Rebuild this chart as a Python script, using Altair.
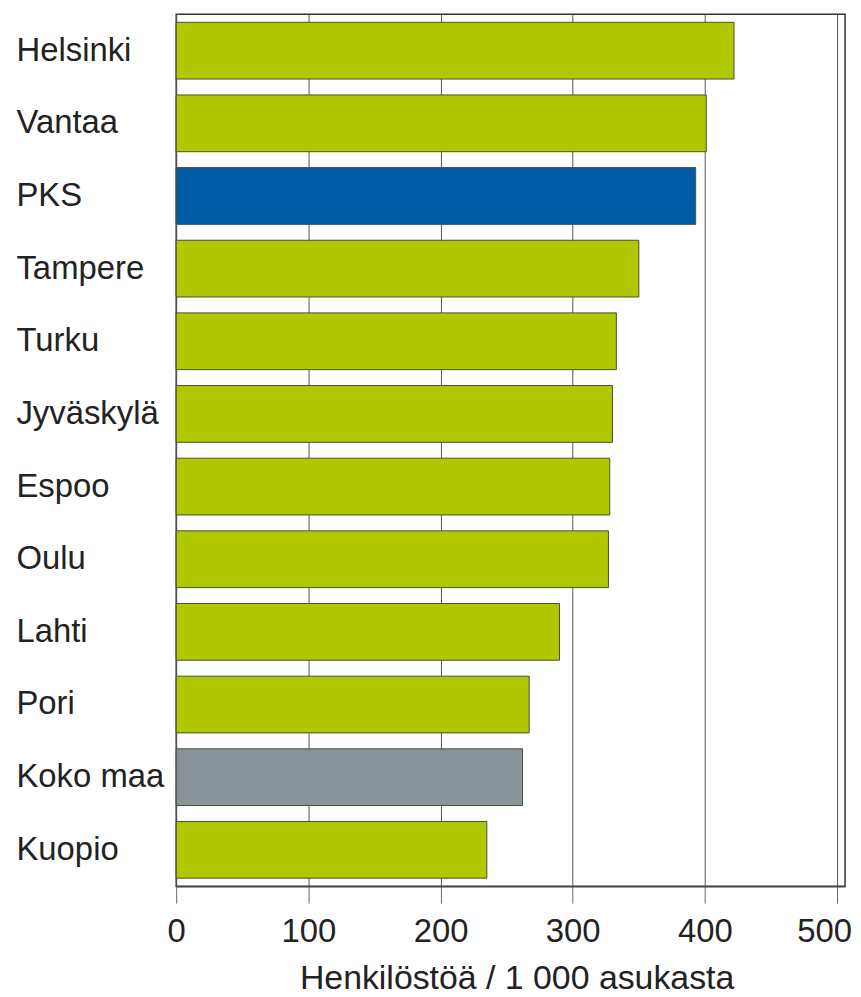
import altair as alt
import pandas as pd

cities = ["Helsinki", "Vantaa", "PKS", "Tampere", "Turku", "Jyväskylä",
          "Espoo", "Oulu", "Lahti", "Pori", "Koko maa", "Kuopio"]
values = [422, 401, 393, 350, 333, 330, 328, 327, 290, 267, 262, 235]
groups = ["kunta", "kunta", "PKS", "kunta", "kunta", "kunta",
          "kunta", "kunta", "kunta", "kunta", "Koko maa", "kunta"]
group_names = ["kunta", "PKS", "Koko maa"]
group_colors = ["#AFC800", "#005BA6", "#8A9399"]
x_ticks = [0, 100, 200, 300, 400, 500]
x_title = "Henkilöstöä / 1 000 asukasta"

df = pd.DataFrame({"city": cities, "value": values, "group": groups})

FONT = "Liberation Sans"

chart = alt.Chart(df).mark_bar(stroke="#4a4f35", strokeWidth=1).encode(
    y=alt.Y(
        "city:N", sort=cities,
        scale=alt.Scale(paddingInner=0.219, paddingOuter=0.11),
        axis=alt.Axis(title=None, ticks=False, domain=False, grid=False,
                      labelAlign="left", labelPadding=161, labelBaseline="middle",
                      labelFontSize=33, labelFont=FONT, labelColor="#222222"),
    ),
    x=alt.X(
        "value:Q",
        scale=alt.Scale(domain=[0, 506], nice=False, zero=True),
        axis=alt.Axis(values=x_ticks, title=x_title, grid=True,
                      gridColor="#555555", gridWidth=1, gridOpacity=1,
                      domain=True, domainColor="#444444", domainWidth=1.5,
                      ticks=True, tickSize=17, tickColor="#666666", tickWidth=1,
                      labelPadding=13, labelFontSize=33, labelFont=FONT,
                      labelColor="#222222", labelFlush=False,
                      labelOffset={"condition": {"test": "datum.value === 500", "value": -13}, "value": 0},
                      titleFont=FONT, titleFontSize=34, titleFontWeight="normal",
                      titleColor="#222222", titleX=342, titleY=103,
                      titleBaseline="alphabetic", titleAlign="center"),
    ),
    color=alt.Color("group:N",
                    scale=alt.Scale(domain=group_names, range=group_colors),
                    legend=None),
).properties(
    width=672, height=876,
    autosize=alt.AutoSizeParams(type="none"),
    padding={"left": 169, "top": 4, "right": 8, "bottom": 110},
).configure_view(stroke="#333333", strokeWidth=1.5)

chart.save("out.html", embed_options={"renderer": "svg", "actions": False})
